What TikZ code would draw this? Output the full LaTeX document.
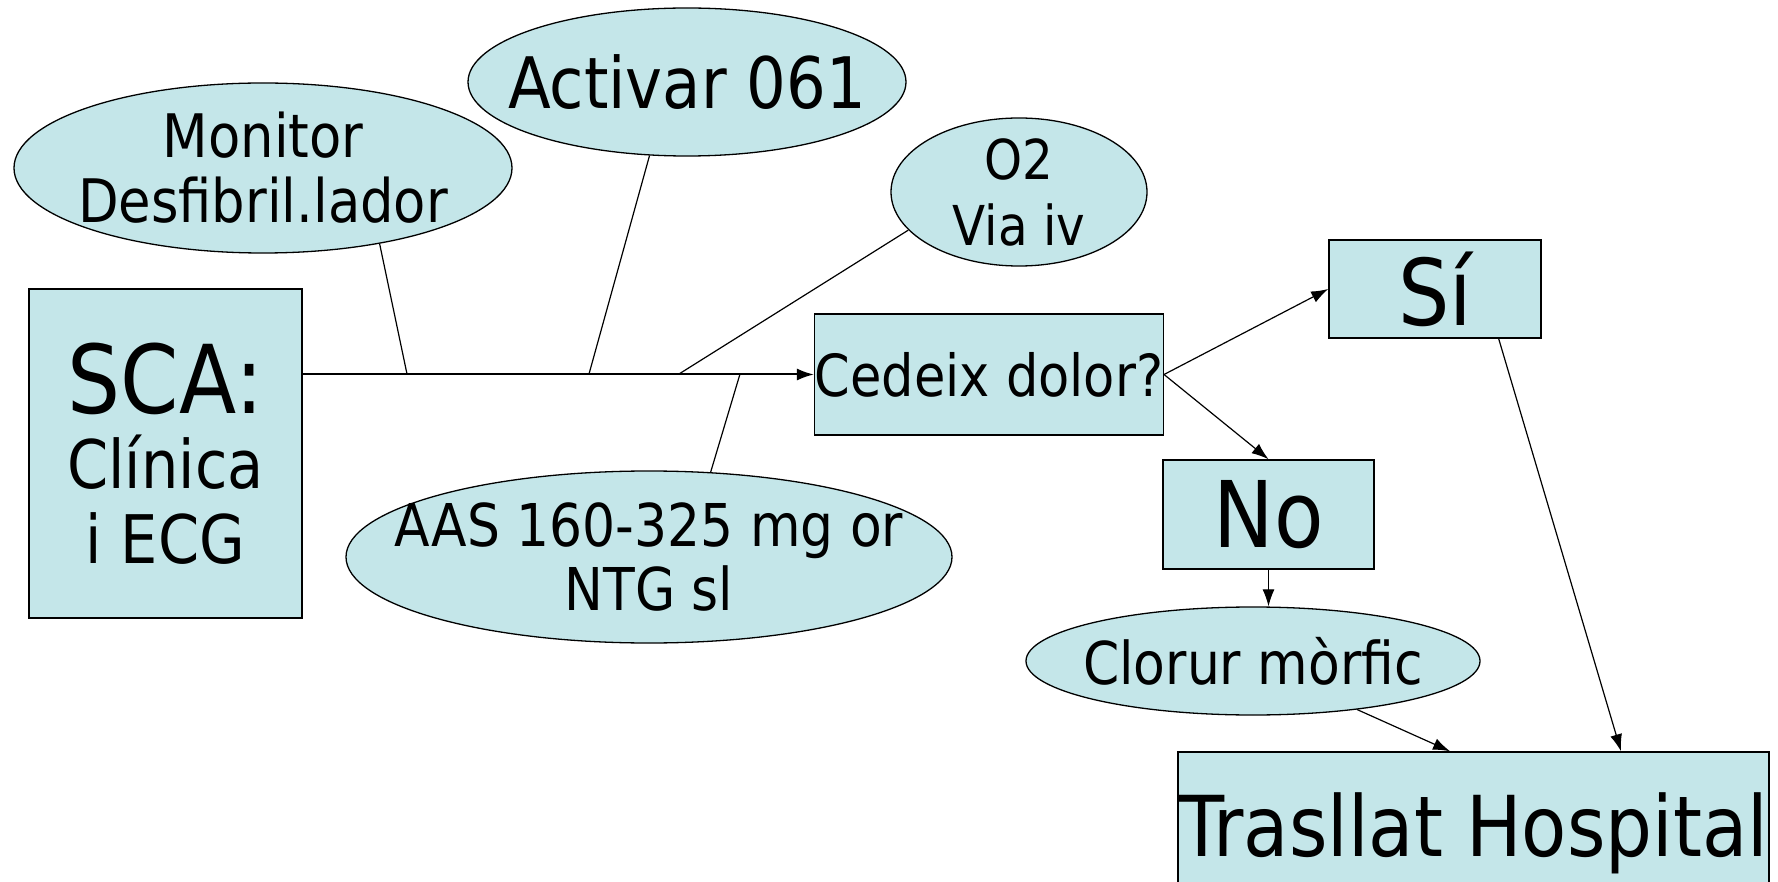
\documentclass[tikz,border=0pt]{standalone}
\usepackage{fontspec}
\setmainfont[FakeStretch=0.88]{DejaVu Sans}
\usetikzlibrary{shapes.geometric,arrows.meta}
\definecolor{paleblue}{RGB}{196,230,233}

\begin{document}
\begin{tikzpicture}[x=1pt, y=-1pt,
        box/.style={draw, fill=paleblue, line width=1.5pt, inner sep=0pt, align=center},
        oval/.style={draw, fill=paleblue, ellipse, line width=1.3pt, inner sep=-300pt, align=center},
        arr/.style={-{Latex[length=17pt,width=12pt]}, line width=1.2pt}]
        \useasboundingbox (0,0) rectangle (1778,882);

        \node[box, minimum width=273, minimum height=329, font=\fontsize{67}{75}\selectfont] (sca) at (165.5,453.5)
            {{\fontsize{95}{85}\selectfont SCA:}\\Clínica\\i ECG};
        \node[box, minimum width=348, minimum height=121, font=\fontsize{58}{63}\selectfont] (ced) at (989,374.5) {Cedeix dolor?};
        \node[box, minimum width=212, minimum height=98, font=\fontsize{92}{92}\selectfont] (si) at (1435,289) {Sí};
        \node[box, minimum width=211, minimum height=109, font=\fontsize{92}{92}\selectfont] (no) at (1268.5,514.5) {No};
        \node[box, minimum width=591, minimum height=162, font=\fontsize{84}{84}\selectfont] (tra) at (1473.5,833) {Trasllat Hospital};

        \node[oval, minimum width=498, minimum height=170, font=\fontsize{60}{65}\selectfont] (mon) at (263,168) {Monitor\\Desfibril.lador};
        \node[oval, minimum width=438, minimum height=148, font=\fontsize{71}{71}\selectfont] (act) at (687,82) {Activar 061};
        \node[oval, minimum width=256, minimum height=148, font=\fontsize{55}{66}\selectfont] (oxy) at (1019,192) {O2\\Via iv};
        \node[oval, minimum width=606, minimum height=172, font=\fontsize{59}{64}\selectfont] (aas) at (649,557) {AAS 160-325 mg or\\NTG sl};
        \node[oval, minimum width=454, minimum height=108, font=\fontsize{59}{59}\selectfont] (clo) at (1253,661) {Clorur mòrfic};

        \coordinate (jmon) at (407,374);
        \coordinate (jact) at (589,374);
        \coordinate (joxy) at (679,374);
        \coordinate (jaas) at (740,374);

        \draw[arr, line width=2pt] (sca.east |- ced.west) -- (ced.west);
        \draw[line width=1.2pt] (mon.-33.5) -- (jmon);
        \draw[line width=1.2pt] (act.-117) -- (jact);
        \draw[line width=1.2pt] (oxy.-161.7) -- (joxy);
        \draw[line width=1.2pt] (aas.54.3) -- (jaas);

        \draw[arr] (ced.east) -- (si.west);
        \draw[arr] (ced.east) -- (no.north);
        \draw[arr] (no.south) -- (no.south |- clo.north);
        \draw[arr] (clo.-25.7) -- (tra.106.8);
        \draw[arr] (si.-38) -- (tra.29.6);
\end{tikzpicture}
\end{document}
